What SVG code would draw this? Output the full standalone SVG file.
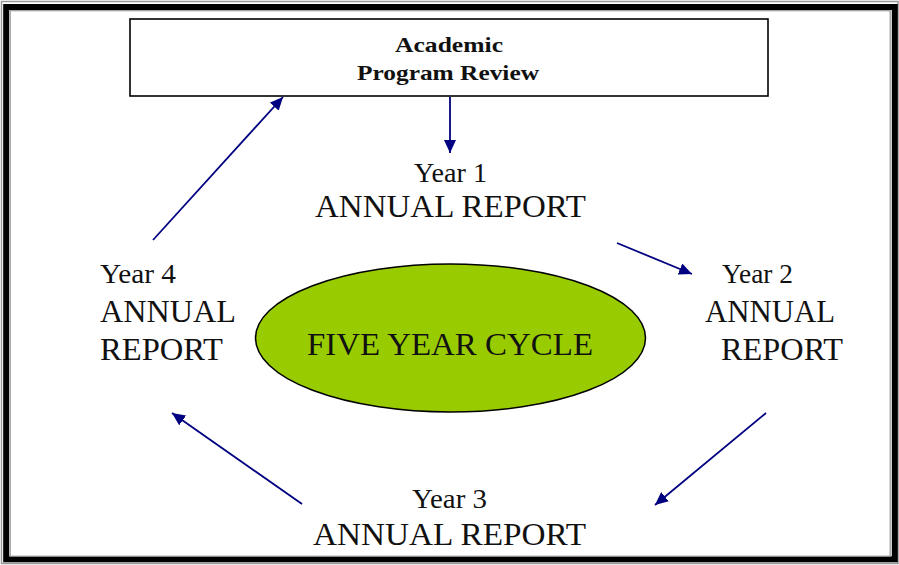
<svg xmlns="http://www.w3.org/2000/svg" width="899" height="565" viewBox="0 0 899 565">
<style>
.t{font-family:"Liberation Serif","Times New Roman",serif;fill:#111}
.big{font-size:32px}
.yr{font-size:28px}
.hd{font-size:22px;font-weight:bold}
.c{stroke:#000080;stroke-width:1.8;fill:none}
</style>
<defs>
<marker id="ah" markerUnits="userSpaceOnUse" markerWidth="14" markerHeight="12" refX="13" refY="6" orient="auto">
<path d="M0,0 L13,6 L0,12 Z" fill="#000080"/>
</marker>
</defs>
<rect x="0" y="0" width="899" height="565" fill="#fff"/>
<g id="frame" fill="none">
<rect x="1.5" y="1.5" width="896.5" height="562" stroke="#999" stroke-width="1.5"/>
<rect x="6.2" y="7" width="888.6" height="552.3" stroke="#000" stroke-width="6"/>
<rect x="10.2" y="10.7" width="880" height="545.5" stroke="#999" stroke-width="1.2"/>
</g>
<g id="review">
<rect x="130" y="19" width="638" height="77" fill="#fff" stroke="#000" stroke-width="1.6"/>
<text class="t hd" x="449" y="52" text-anchor="middle" textLength="108" lengthAdjust="spacingAndGlyphs">Academic</text>
<text class="t hd" x="448" y="80" text-anchor="middle" textLength="182" lengthAdjust="spacingAndGlyphs">Program Review</text>
</g>
<g id="cycle">
<ellipse cx="450.5" cy="338" rx="195" ry="74" fill="#99cc00" stroke="#000" stroke-width="1.5"/>
<text class="t big" x="450" y="355" text-anchor="middle" textLength="286" lengthAdjust="spacingAndGlyphs">FIVE YEAR CYCLE</text>
</g>
<g id="year1">
<text class="t yr" x="450.5" y="182" text-anchor="middle" textLength="73" lengthAdjust="spacingAndGlyphs">Year 1</text>
<text class="t big" x="450.5" y="217" text-anchor="middle" textLength="271" lengthAdjust="spacingAndGlyphs">ANNUAL REPORT</text>
</g>
<g id="year2">
<text class="t yr" x="722" y="283" textLength="71" lengthAdjust="spacingAndGlyphs">Year 2</text>
<text class="t big" x="705" y="322" textLength="130" lengthAdjust="spacingAndGlyphs">ANNUAL</text>
<text class="t big" x="721" y="360" textLength="122" lengthAdjust="spacingAndGlyphs">REPORT</text>
</g>
<g id="year3">
<text class="t yr" x="449.5" y="508" text-anchor="middle" textLength="75" lengthAdjust="spacingAndGlyphs">Year 3</text>
<text class="t big" x="449.5" y="545" text-anchor="middle" textLength="273" lengthAdjust="spacingAndGlyphs">ANNUAL REPORT</text>
</g>
<g id="year4">
<text class="t yr" x="100" y="283" textLength="76" lengthAdjust="spacingAndGlyphs">Year 4</text>
<text class="t big" x="100" y="322" textLength="136" lengthAdjust="spacingAndGlyphs">ANNUAL</text>
<text class="t big" x="100" y="360" textLength="123" lengthAdjust="spacingAndGlyphs">REPORT</text>
</g>
<g id="connectors">
<line class="c" x1="450" y1="97" x2="450" y2="153" marker-end="url(#ah)"/>
<line class="c" x1="617" y1="243" x2="692" y2="274" marker-end="url(#ah)"/>
<line class="c" x1="766" y1="413" x2="655" y2="505" marker-end="url(#ah)"/>
<line class="c" x1="302" y1="504" x2="172" y2="413" marker-end="url(#ah)"/>
<line class="c" x1="153" y1="240" x2="283" y2="97" marker-end="url(#ah)"/>
</g>
</svg>
